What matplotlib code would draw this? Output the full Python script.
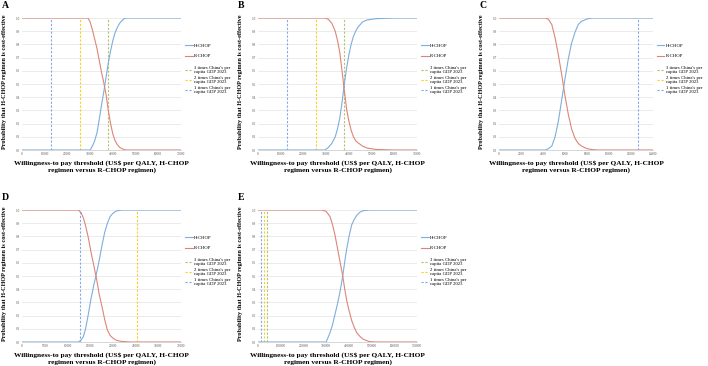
import matplotlib
matplotlib.use('Agg')
import matplotlib.pyplot as plt

plt.rcParams['font.family'] = ['Liberation Serif', 'DejaVu Serif']

# willingness-to-pay thresholds (US$), probability H-CHOP / R-CHOP cost-effective
a_x = [0, 29000, 30000, 31000, 32000, 33000, 34000, 35000, 36000, 37000, 38000,
       39000, 40000, 41000, 42000, 43000, 44000, 45000, 46000, 70000]
a_h = [0, 0, 0.0, 0.03, 0.07, 0.13, 0.23, 0.34, 0.44, 0.55, 0.66,
       0.75, 0.83, 0.89, 0.93, 0.96, 0.98, 0.995, 1.0, 1.0]
a_r = [1, 1, 0.97, 0.91, 0.84, 0.77, 0.68, 0.59, 0.51, 0.42, 0.30,
       0.20, 0.12, 0.07, 0.04, 0.02, 0.01, 0.003, 0, 0]

b_x = [0, 29500, 31000, 32500, 34000, 35000, 36000, 37000, 38000, 39000, 40000,
       41000, 42000, 43000, 44000, 46000, 48000, 52000, 60000, 70000]
b_h = [0, 0, 0.02, 0.05, 0.1, 0.16, 0.24, 0.36, 0.5, 0.62, 0.72,
       0.8, 0.86, 0.9, 0.93, 0.97, 0.985, 0.995, 1.0, 1.0]
b_r = [1, 1.0, 0.99, 0.96, 0.9, 0.83, 0.74, 0.6, 0.45, 0.31, 0.22,
       0.15, 0.1, 0.07, 0.055, 0.03, 0.015, 0.004, 0, 0]

c_x = [0, 4000, 4200, 4500, 4800, 5100, 5400, 5700, 6000, 6300, 6600,
       6900, 7200, 7500, 8000, 8500, 9000, 14000]
c_h = [0, 0, 0, 0.01, 0.03, 0.1, 0.22, 0.38, 0.54, 0.69, 0.81,
       0.89, 0.95, 0.975, 0.993, 1.0, 1.0, 1.0]
c_r = [1, 1, 1.0, 0.99, 0.95, 0.85, 0.72, 0.57, 0.41, 0.27, 0.16,
       0.09, 0.05, 0.03, 0.01, 0.003, 0, 0]

d_x = [0, 12400, 13000, 13500, 14000, 14600, 15200, 15800, 16400, 17000, 17600,
       18200, 18800, 19400, 20000, 20800, 22000, 24000, 35000]
d_h = [0, 0, 0.015, 0.04, 0.1, 0.21, 0.33, 0.43, 0.52, 0.62, 0.73,
       0.83, 0.9, 0.95, 0.975, 0.993, 1.0, 1.0, 1.0]
d_r = [1, 1, 0.98, 0.94, 0.88, 0.79, 0.68, 0.58, 0.48, 0.36, 0.27,
       0.17, 0.09, 0.05, 0.03, 0.012, 0.004, 0, 0]

e_x = [0, 280000, 300000, 317000, 328000, 339000, 350000, 361000, 373000, 382000,
       391000, 402000, 413000, 424000, 435000, 450000, 464000, 490000, 520000, 700000]
e_h = [0, 0, 0.0, 0.07, 0.13, 0.21, 0.29, 0.38, 0.5, 0.61,
       0.71, 0.81, 0.89, 0.93, 0.96, 0.985, 0.995, 1.0, 1.0, 1.0]
e_r = [1, 1, 0.99, 0.95, 0.89, 0.81, 0.71, 0.61, 0.5, 0.4,
       0.31, 0.23, 0.16, 0.11, 0.07, 0.04, 0.02, 0.003, 0, 0]

# China's per capita GDP 2023 (x3, x2, x1), US$
gdp_lines = [38043, 25362, 12681]
gdp_labels = ["3 times China's per\ncapita GDP 2023",
              "2 times China's per\ncapita GDP 2023",
              "1 times China's per\ncapita GDP 2023"]
gdp_colors = ['#b3c26e', '#f7d11e', '#84a8e8']

panels = [
    ('A', a_x, a_h, a_r, 70000, 10000, [22, 18, 159, 132]),
    ('B', b_x, b_h, b_r, 70000, 10000, [258, 18, 159, 132]),
    ('C', c_x, c_h, c_r, 14000, 2000, [499, 18, 154, 132]),
    ('D', d_x, d_h, d_r, 35000, 5000, [22, 210, 159, 132]),
    ('E', e_x, e_h, e_r, 700000, 100000, [258, 210, 159, 132]),
]

W, H = 708, 366
fig = plt.figure(figsize=(W / 100, H / 100), dpi=100)

for letter, xs, hs, rs, xmax, step, box in panels:
    l, t, w, h = box
    ax = fig.add_axes([l / W, 1 - (t + h) / H, w / W, h / H])
    gl = []
    for v, lab, col in zip(gdp_lines, gdp_labels, gdp_colors):
        ln = ax.axvline(v, color=col, lw=0.8, ls=(0, (2, 1.5)), label=lab, zorder=2)
        gl.append(ln)
    lh, = ax.plot(xs, hs, color='#7eaedc', lw=0.8, label='H-CHOP', zorder=3)
    lr, = ax.plot(xs, rs, color='#dc8577', lw=0.8, label='R-CHOP', zorder=3)

    ax.set_xlim(0, xmax)
    ax.set_ylim(0, 1)
    ax.set_xticks(range(0, xmax + 1, step))
    ax.set_yticks([i / 10 for i in range(11)])
    ax.set_yticklabels(['%.1f' % (i / 10) for i in range(11)])
    ax.tick_params(labelsize=2.4, length=0, pad=1.5, colors='#555555')
    ax.grid(axis='y', color='#e3e3e3', lw=0.5)
    ax.set_axisbelow(True)
    for s in ['top', 'right', 'left']:
        ax.spines[s].set_visible(False)
    ax.spines['bottom'].set_color('#cfcfcf')
    ax.spines['bottom'].set_linewidth(0.6)

    ax.set_xlabel('Willingness-to pay threshold (US$ per QALY, H-CHOP\nregimen versus R-CHOP regimen)',
                  fontsize=5.3, fontweight='bold', labelpad=3, linespacing=1.15)
    ax.set_ylabel('Probability that H-CHOP regimen is cost-effective',
                  fontsize=4.5, fontweight='bold')
    ax.yaxis.set_label_coords(-0.095, 0.515)

    leg1 = ax.legend(handles=[lh, lr], loc='center left', bbox_to_anchor=(1.025, 0.75),
                     frameon=False, fontsize=3.4, handlelength=1.6, handletextpad=0.3,
                     labelspacing=1.25, borderpad=0, borderaxespad=0)
    ax.add_artist(leg1)
    leg2 = ax.legend(handles=gl, loc='center left', bbox_to_anchor=(1.025, 0.53),
                     frameon=False, fontsize=3.4, handlelength=1.6, handletextpad=0.3,
                     labelspacing=0.4, borderpad=0, borderaxespad=0)
    for txt in leg2.get_texts():
        txt.set_linespacing(0.95)

    fig.text((l - 20) / W, 1 - (t - 17) / H, letter, fontsize=7, fontweight='bold',
             ha='left', va='top')

fig.savefig('out.png', dpi=100)
